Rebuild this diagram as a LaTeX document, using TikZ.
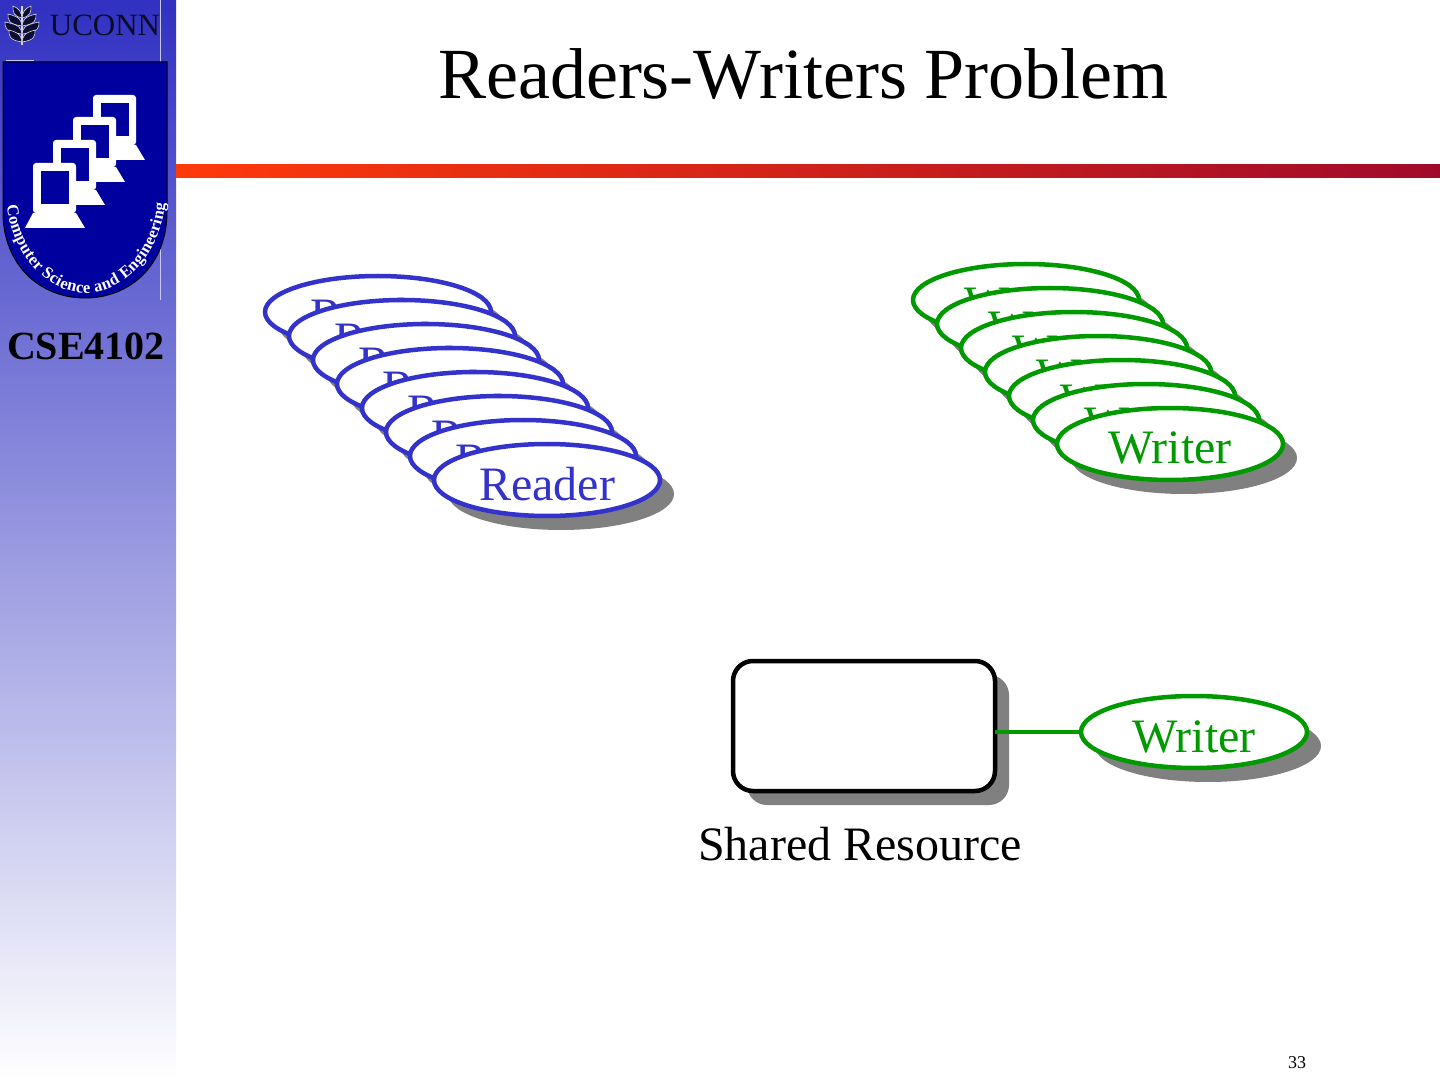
\documentclass[tikz,border=0pt]{standalone}
\usepackage{fontspec}
\setmainfont{Liberation Serif}
\usepackage{xcolor}
\usetikzlibrary{shapes.geometric, positioning, shadows, decorations.text}

\definecolor{readerblue}{HTML}{3333CC}
\definecolor{writergreen}{HTML}{009900}
\definecolor{shadowgray}{HTML}{808080}
\definecolor{shieldblue}{HTML}{00009E}
\definecolor{barred}{HTML}{FF3A0A}
\definecolor{bardark}{HTML}{A00A2A}
\definecolor{sidelight}{HTML}{C8C8EC}

\begin{document}
\begin{tikzpicture}[
    x=0.5pt, y=-0.5pt,
    process/.style={draw, ellipse, fill=white, line width=2.25pt, minimum width=113pt, minimum height=36pt, inner sep=0pt, outer sep=0pt,
        text height=20pt, text depth=0pt,
        font=\fontsize{24}{24}\selectfont, drop shadow={shadow xshift=7pt, shadow yshift=-7pt, fill=shadowgray, opacity=1}},
    reader/.style={process, draw=readerblue, text=readerblue},
    writer/.style={process, draw=writergreen, text=writergreen},
    resource/.style={draw=black, fill=white, rectangle, rounded corners=10pt, line width=2.25pt, minimum width=131pt, minimum height=65pt, outer sep=0pt,
        drop shadow={shadow xshift=7pt, shadow yshift=-7pt, fill=shadowgray, opacity=1}},
    link/.style={draw=writergreen, line width=2pt},
    leaf/.style={fill=black!75!readerblue, draw=white!85!black, line width=0.3pt},
    pics/monitor/.style={code={
        \fill[white] (0,50) -- (43,50) -- (52,65) -- (-8,65) -- cycle;
        \fill[white, rounded corners=1.5pt] (0,0) rectangle (43,50);
        \fill[shieldblue] (8,8) rectangle (36,41);
    }}
]
\useasboundingbox (0,0) rectangle (1440,1080);
\fill[white] (0,0) rectangle (1440,1080);

% side panel and title rule
\shade[top color=readerblue!95!black, bottom color=white] (0,0) rectangle (176,1080);
\shade[left color=barred, right color=bardark] (176,165) rectangle (1440,178);

% logo
\draw[sidelight, line width=0.5pt] (160,0) -- (160,300);
\draw[sidelight, line width=0.5pt] (6,61) -- (34,61);
\draw[black, line width=0.5pt, fill=shieldblue] (3,62) -- (167,62) -- (167,212) .. controls (167,265) and (130,298) .. (85,298) .. controls (40,298) and (3,265) .. (3,212) -- cycle;
\pic at (93,95) {monitor};
\pic at (73,117) {monitor};
\pic at (53,140) {monitor};
\pic at (33,163) {monitor};
\path[decorate, decoration={text along path, text align={fit to path}, text color=white,
    text={|\fontsize{8.3}{8.3}\selectfont\bfseries|Computer Science and Engineering}}]
    (7,205) .. controls (12,258) and (50,293) .. (85,293) .. controls (122,293) and (160,258) .. (165,203);
\node (uconn) [text=black!80!readerblue, font=\fontsize{15.5}{15.5}\selectfont, inner sep=0pt] at (105,25) {UCONN};

% emblem
\draw[white!85!black, line width=1pt] (22,45) -- (22,6);
\foreach \leafy/\leafx in {12/9, 20/14, 28/17, 36/13} {
    \fill[leaf] (22,\leafy+6) .. controls (22-\leafx,\leafy+4) and (22-\leafx,\leafy) .. (22-\leafx,\leafy-6) .. controls (22-2,\leafy-3) and (22-1,\leafy) .. (22,\leafy+6);
    \fill[leaf] (22,\leafy+6) .. controls (22+\leafx,\leafy+4) and (22+\leafx,\leafy) .. (22+\leafx,\leafy-6) .. controls (22+2,\leafy-3) and (22+1,\leafy) .. (22,\leafy+6);
}

\node (course) [font=\fontsize{20}{20}\selectfont\bfseries, inner sep=0pt] at (86,346) {CSE4102};
\node (title) [font=\fontsize{36}{36}\selectfont, inner sep=0pt] at (803.5,74) {Readers-Writers Problem};

% readers
\node (reader1) [reader] at (378,312) {Reader};
\node (reader2) [reader] at (402,336) {Reader};
\node (reader3) [reader] at (426,360) {Reader};
\node (reader4) [reader] at (450,384) {Reader};
\node (reader5) [reader] at (475,408) {Reader};
\node (reader6) [reader] at (499,432) {Reader};
\node (reader7) [reader] at (523,456) {Reader};
\node (reader8) [reader] at (547,480) {Reader};

% writers
\node (writer1) [writer] at (1026,300) {Writer};
\node (writer2) [writer] at (1050,324) {Writer};
\node (writer3) [writer] at (1074,348) {Writer};
\node (writer4) [writer] at (1098,372) {Writer};
\node (writer5) [writer] at (1122,396) {Writer};
\node (writer6) [writer] at (1146,420) {Writer};
\node (writer7) [writer] at (1170,444) {Writer};

% resource
\node (shared) [resource] at (864,726) {};
\node (activewriter) [writer] at (1194,732) {Writer};
\node (sharedlabel) [font=\fontsize{24}{24}\selectfont, inner sep=0pt] at (860,844) {Shared Resource};
\draw[link] (shared.east |- activewriter.west) -- (activewriter.west);

\node (pagenum) [font=\fontsize{9}{9}\selectfont, inner sep=0pt] at (1297,1063) {33};

\end{tikzpicture}
\end{document}
